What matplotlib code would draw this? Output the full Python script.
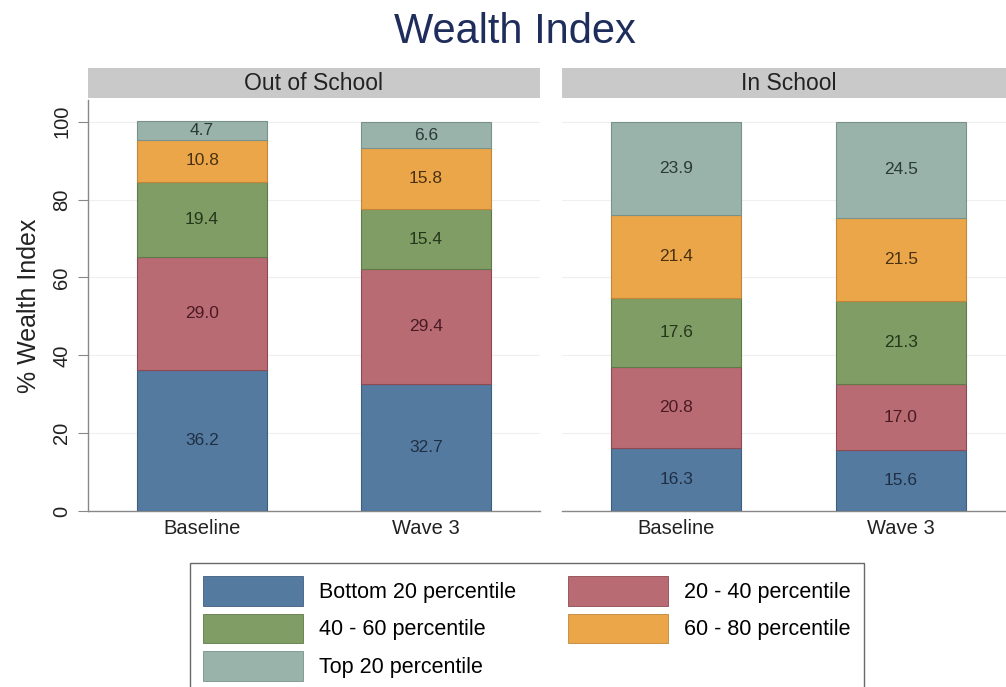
import matplotlib
matplotlib.use("Agg")
import matplotlib.pyplot as plt
from matplotlib.patches import Patch, Rectangle

plt.rcParams['font.family'] = ['Liberation Sans', 'DejaVu Sans']

panels = ["Out of School", "In School"]
waves = ["Baseline", "Wave 3"]
series = ["Bottom 20 percentile", "20 - 40 percentile", "40 - 60 percentile",
          "60 - 80 percentile", "Top 20 percentile"]
# values per panel and wave, listed per series (bottom to top)
out_baseline = [36.2, 29.0, 19.4, 10.8, 4.7]
out_wave3 = [32.7, 29.4, 15.4, 15.8, 6.6]
in_baseline = [16.3, 20.8, 17.6, 21.4, 23.9]
in_wave3 = [15.6, 17.0, 21.3, 21.5, 24.5]
values = [[out_baseline, out_wave3], [in_baseline, in_wave3]]
yticks = [0, 20, 40, 60, 80, 100]

colors = ["#557a9f", "#b96b74", "#7f9d64", "#eca64a", "#99b3ab"]
edge_colors = ["#3f5f80", "#8e4a52", "#5f7a48", "#c2853a", "#78928a"]
text_colors = ["#1e2f45", "#4a1a22", "#25361a", "#4a3210", "#2a3a36"]

W, H = 1006, 687
fig = plt.figure(figsize=(W / 100, H / 100), dpi=100)

def fx(px):
    return px / W

def fy(py):
    return 1 - py / H

ax_bottom = fy(511)
ax_h = (511 - 100) / H
axes_specs = [(88, 452), (562, 453)]
for i, (x0, w) in enumerate(axes_specs):
    ax = fig.add_axes([fx(x0), ax_bottom, w / W, ax_h])
    xs = list(range(len(waves)))
    for j in range(len(waves)):
        bottom = 0
        for k in range(len(series)):
            v = values[i][j][k]
            ax.bar(j, v, bottom=bottom, width=0.58, color=colors[k],
                   edgecolor=edge_colors[k], linewidth=0.8, zorder=3)
            ax.text(j, bottom + v / 2, f"{v:.1f}", ha="center", va="center",
                    fontsize=12.5, color=text_colors[k], zorder=4)
            bottom += v
    ax.set_xlim(-0.51, 1.51)
    ax.set_ylim(0, 105.6)
    ax.set_xticks(xs)
    ax.set_xticklabels(waves, fontsize=14.5, color="#222222")
    ax.tick_params(axis="x", length=0, pad=6)
    ax.set_yticks(yticks)
    ax.grid(axis="y", color="#efefef", linewidth=0.8, zorder=0)
    for s in ["top", "right"]:
        ax.spines[s].set_visible(False)
    ax.spines["bottom"].set_color("#888888")
    ax.spines["bottom"].set_linewidth(1.0)
    if i == 0:
        ax.spines["left"].set_color("#888888")
        ax.spines["left"].set_linewidth(1.0)
        ax.tick_params(axis="y", length=7, color="#888888", labelsize=14.5,
                       labelcolor="#222222", pad=5)
        for lab in ax.get_yticklabels():
            lab.set_rotation(90)
            lab.set_va("center")
        ax.set_ylabel("% Wealth Index", fontsize=18, color="#222222", labelpad=8)
    else:
        ax.spines["left"].set_visible(False)
        ax.tick_params(axis="y", length=0, labelleft=False)
    # strip header
    fig.patches.append(Rectangle((fx(x0), fy(98)), w / W, 30 / H,
                                 transform=fig.transFigure, facecolor="#c9c9c9",
                                 edgecolor="none"))
    fig.text(fx(x0 + w / 2), fy(83), panels[i], ha="center", va="center",
             fontsize=16.5, color="#222222")

fig.text(fx(515), fy(32), "Wealth Index", ha="center", va="center",
         fontsize=30, color="#1f2d5c")

handles = [Patch(facecolor=colors[k], edgecolor=edge_colors[k], linewidth=0.6)
           for k in range(len(series))]
order = [0, 2, 4, 1, 3]
leg = fig.legend([handles[k] for k in order], [series[k] for k in order],
                 ncol=2, loc="upper left", bbox_to_anchor=(fx(190), fy(563)),
                 borderaxespad=0,
                 fontsize=15.5, handlelength=4.65, handleheight=1.75,
                 labelspacing=0.37, handletextpad=0.75, columnspacing=2.4,
                 borderpad=0.6, frameon=True, fancybox=False)
leg.get_frame().set_edgecolor("#444444")
leg.get_frame().set_linewidth(1.0)

fig.savefig("out.png", dpi=100)
